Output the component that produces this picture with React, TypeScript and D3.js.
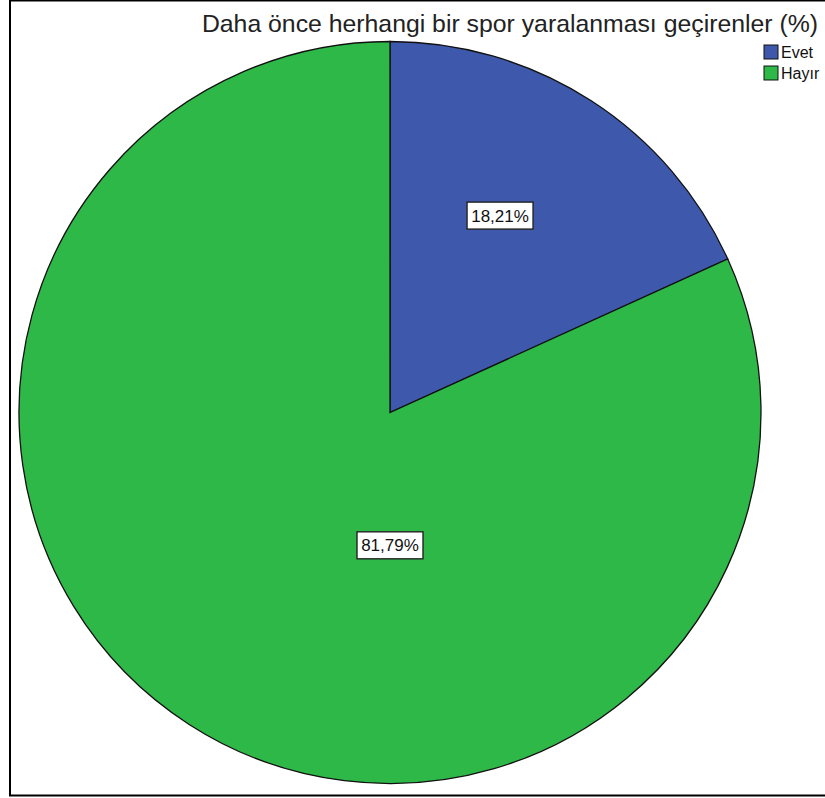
import React from "react";
import * as d3 from "d3";

const categories = ["Evet", "Hayır"];
const percents = [18.21, 81.79];
const colors = ["#3E58AC", "#2EB848"];
const title = "Daha önce herhangi bir spor yaralanması geçirenler (%)";
// label placement: angle (deg from 12 o'clock), radius fraction
const labelPolar = [
  [29.2, 0.608],
  [180, 0.358],
];

const W = 825;
const H = 798;
const cx = 390;
const cy = 412.5;
const R = 371;

export default function App() {
  const pie = d3.pie<number>().sort(null).value((d) => d);
  const arcs = pie(percents);
  const arcGen = d3.arc<d3.PieArcDatum<number>>().innerRadius(0).outerRadius(R);
  const fmt = (v: number) => v.toFixed(2).replace(".", ",") + "%";

  return (
    <svg
      width={W}
      height={H}
      style={{ position: "absolute", left: 0, top: 0, background: "#fff" }}
      fontFamily="'Liberation Sans', Arial, sans-serif"
    >
      <rect x={0} y={0} width={W} height={H} fill="#fff" />
      <rect x={10} y={0.5} width={830} height={795} fill="none" stroke="#000" strokeWidth={2} />
      <text x={818} y={32} textAnchor="end" fontSize={24.8} fill="#222">
        {title}
      </text>
      <g transform={`translate(${cx},${cy})`}>
        {arcs.map((a, i) => (
          <path key={i} d={arcGen(a) || ""} fill={colors[i]} stroke="#111" strokeWidth={1.3} />
        ))}
      </g>
      {arcs.map((a, i) => {
        const [deg, f] = labelPolar[i];
        const ang = (deg * Math.PI) / 180;
        const x = cx + Math.sin(ang) * R * f;
        const y = cy - Math.cos(ang) * R * f;
        const w = 66;
        const h = 27;
        return (
          <g key={"l" + i}>
            <rect x={x - w / 2} y={y - h / 2} width={w} height={h} fill="#fff" stroke="#222" strokeWidth={1.4} />
            <text x={x} y={y + 6} textAnchor="middle" fontSize={17} fill="#111">
              {fmt(percents[i])}
            </text>
          </g>
        );
      })}
      {categories.map((c, i) => (
        <g key={"lg" + i} transform={`translate(764,${45 + i * 21})`}>
          <rect x={0} y={0} width={14} height={14} fill={colors[i]} stroke="#111" strokeWidth={1} />
          <text x={17} y={13} fontSize={16} fill="#111">
            {c}
          </text>
        </g>
      ))}
    </svg>
  );
}
